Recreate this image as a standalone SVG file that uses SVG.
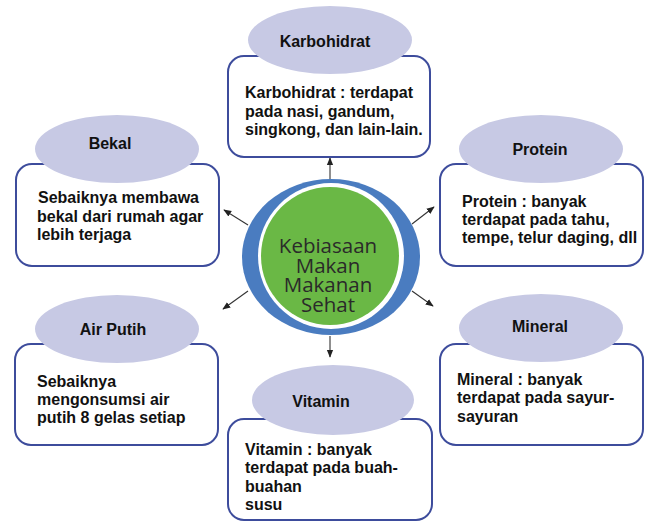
<svg xmlns="http://www.w3.org/2000/svg" width="650" height="529" viewBox="0 0 650 529">
<defs>
<style>
.box{fill:#fff;stroke:#3d4c9c;stroke-width:2}
.ell{fill:#c7c9e4;stroke:none}
.t{font-family:"Liberation Sans",Arial,sans-serif;font-weight:bold;font-size:16px;fill:#111}
.lbl{text-anchor:middle}
.c{font-family:"Open Sans","DejaVu Sans",sans-serif;font-size:20.5px;fill:#2a2a2a;text-anchor:middle}
.con{stroke:#333;stroke-width:1.1;fill:none;marker-end:url(#ah)}
</style>
<marker id="ah" viewBox="0 0 10 10" refX="9" refY="5" markerWidth="8" markerHeight="8" markerUnits="userSpaceOnUse" orient="auto">
<path d="M0,1 L10,5 L0,9 Z" fill="#222"/>
</marker>
</defs>
<rect width="650" height="529" fill="#fff"/>
<g id="connectors">
<line class="con" x1="330" y1="181" x2="330" y2="158"/>
<line class="con" x1="248" y1="225" x2="224" y2="210"/>
<line class="con" x1="412" y1="224" x2="434" y2="207"/>
<line class="con" x1="248" y1="291" x2="223" y2="309"/>
<line class="con" x1="412" y1="291" x2="433" y2="306"/>
<line class="con" x1="330" y1="336" x2="330" y2="357"/>
</g>
<g id="center">
<ellipse cx="331" cy="257" rx="89" ry="78" fill="#4a7cc0"/>
<ellipse cx="331" cy="256" rx="73" ry="73" fill="#fff"/>
<circle cx="330" cy="256" r="69" fill="#6ab845"/>
<text class="c" x="328" y="253">Kebiasaan</text>
<text class="c" x="328" y="273">Makan</text>
<text class="c" x="328" y="292">Makanan</text>
<text class="c" x="328" y="312">Sehat</text>
</g>
<g id="karbohidrat">
<rect class="box" x="228" y="56" width="202" height="101" rx="16"/>
<ellipse class="ell" cx="330" cy="40" rx="82" ry="34"/>
<text class="t lbl" x="325" y="47">Karbohidrat</text>
<text class="t" x="245" y="98">Karbohidrat : terdapat</text>
<text class="t" x="245" y="117">pada nasi, gandum,</text>
<text class="t" x="245" y="135">singkong, dan lain-lain.</text>
</g>
<g id="bekal">
<rect class="box" x="16" y="164" width="203" height="102" rx="16"/>
<ellipse class="ell" cx="117" cy="149" rx="82" ry="34"/>
<text class="t lbl" x="110" y="149">Bekal</text>
<text class="t" x="38" y="203">Sebaiknya membawa</text>
<text class="t" x="37" y="222">bekal dari rumah agar</text>
<text class="t" x="37" y="240">lebih terjaga</text>
</g>
<g id="protein">
<rect class="box" x="440" y="164" width="203" height="102" rx="16"/>
<ellipse class="ell" cx="541" cy="149" rx="82" ry="34"/>
<text class="t lbl" x="540" y="155">Protein</text>
<text class="t" x="462" y="207">Protein : banyak</text>
<text class="t" x="462" y="225">terdapat pada tahu,</text>
<text class="t" x="462" y="243">tempe, telur daging, dll</text>
</g>
<g id="air-putih">
<rect class="box" x="15" y="344" width="203" height="101" rx="16"/>
<ellipse class="ell" cx="117" cy="329" rx="82" ry="34"/>
<text class="t lbl" x="113" y="335">Air Putih</text>
<text class="t" x="37" y="387">Sebaiknya</text>
<text class="t" x="37" y="405">mengonsumsi air</text>
<text class="t" x="37" y="423">putih 8 gelas setiap</text>
</g>
<g id="mineral">
<rect class="box" x="440" y="344" width="203" height="101" rx="16"/>
<ellipse class="ell" cx="541" cy="328" rx="82" ry="34"/>
<text class="t lbl" x="540" y="332">Mineral</text>
<text class="t" x="457" y="385">Mineral : banyak</text>
<text class="t" x="457" y="403">terdapat pada sayur-</text>
<text class="t" x="457" y="422">sayuran</text>
</g>
<g id="vitamin">
<rect class="box" x="228" y="419" width="204" height="101" rx="16"/>
<ellipse class="ell" cx="333" cy="400" rx="81" ry="35"/>
<text class="t lbl" x="321" y="407">Vitamin</text>
<text class="t" x="245" y="455">Vitamin : banyak</text>
<text class="t" x="245" y="473">terdapat pada buah-</text>
<text class="t" x="245" y="492">buahan</text>
<text class="t" x="245" y="510">susu</text>
</g>
</svg>
